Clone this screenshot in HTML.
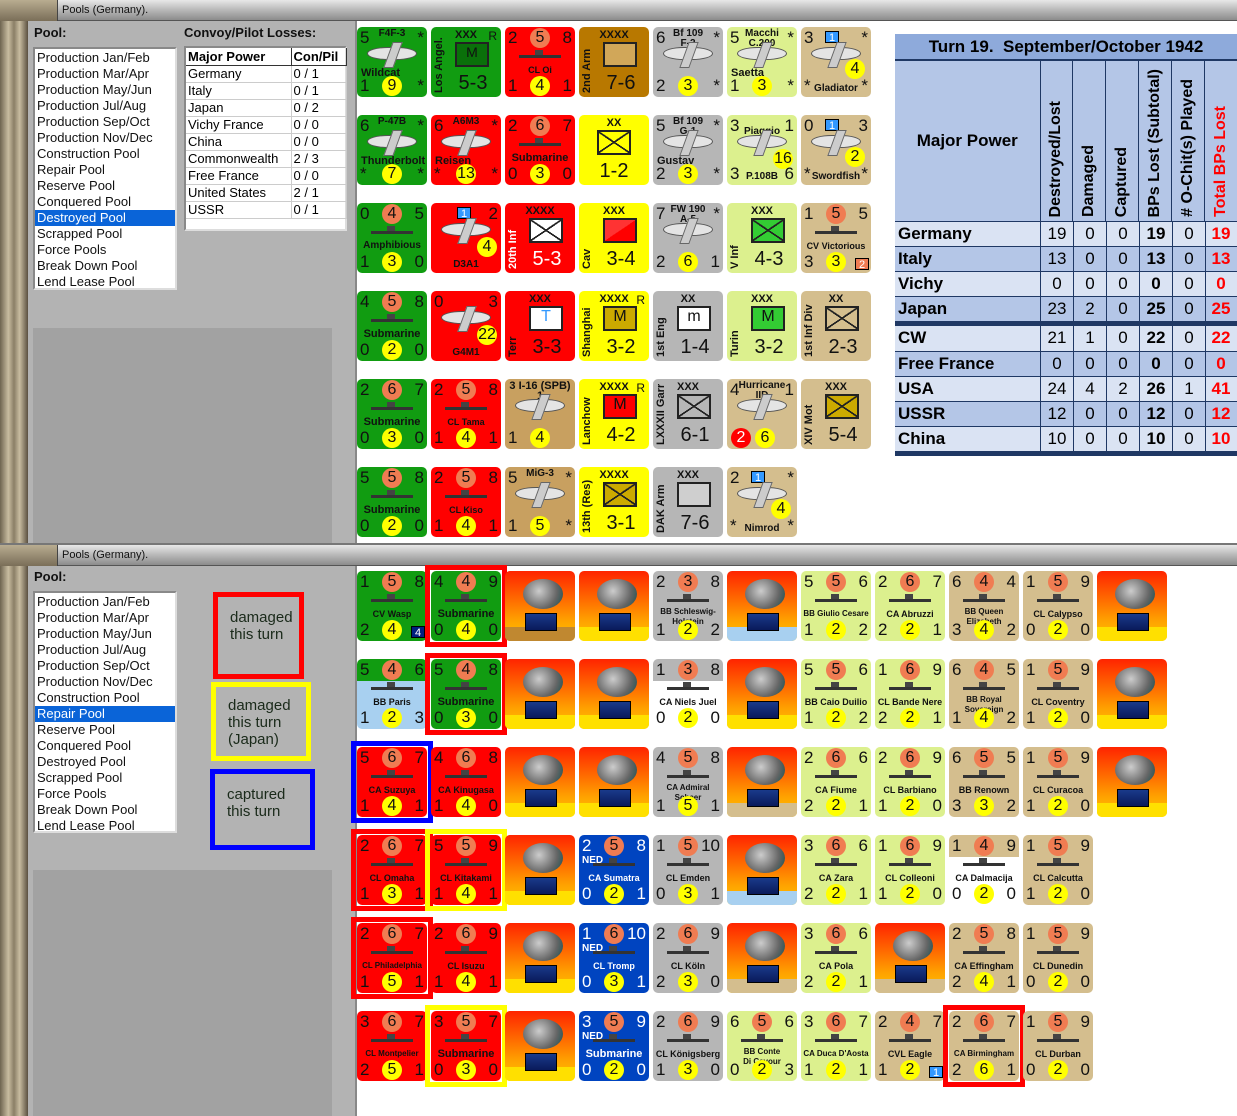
<!DOCTYPE html>
<html><head><meta charset="utf-8"><style>
*{box-sizing:border-box;margin:0;padding:0}
i{font-style:normal}
body{width:1237px;height:1116px;position:relative;overflow:hidden;background:#fff;font-family:"Liberation Sans",sans-serif}
.abs{position:absolute}
.tbar{position:absolute;left:0;width:1237px;height:21px;background:linear-gradient(#e8e8e8,#b8b8b8 50%,#8c8c8c);border-bottom:1px solid #555}
.tbar .ic{position:absolute;left:0;top:0;width:58px;height:21px;background:linear-gradient(#b8ac90,#7a6e58);border-right:1px solid #444}
.tbar span{position:absolute;left:62px;top:4px;font-size:11px;color:#111}
.frame{position:absolute;left:0;width:28px;background:linear-gradient(90deg,#6e6450,#c8bca0 30%,#8a7e66 50%,#c8bca0 70%,#5a5040)}
.panel{position:absolute;left:28px;width:327px;background:#b3b3b3}
.lbl{position:absolute;font-size:13px;font-weight:bold;color:#111}
.list{position:absolute;left:33px;width:144px;background:#fff;border:2px inset #ddd;font-size:13px;padding-top:1px}
.list div{height:16px;line-height:16px;padding-left:2px;color:#111;white-space:nowrap}
.list .sel{background:#0a64d8;color:#fff}
.dark{position:absolute;left:33px;width:299px;background:#a2a2a2}
.conv{position:absolute;left:184px;top:46px;width:163px;height:185px;background:#fff;border:2px inset #ddd;font-size:13px}
.conv table{border-collapse:collapse;width:161px}
.conv td{height:17px;border-right:1px solid #ccc;border-bottom:1px solid #ccc;padding-left:2px;white-space:nowrap}
.conv th{height:17px;text-align:left;border-right:1px solid #333;border-bottom:1px solid #333;padding-left:2px}
.row{position:absolute;display:flex;gap:4px}
.c{position:relative;width:70px;height:70px;border-radius:5px;color:#111;flex:none}
.g{background:#119c11}.r{background:#ff0000}.y{background:#ffff00}.gy{background:#b6b6b6}.lg{background:#dcf08e}.tn{background:#d4be8e}.br{background:#b87800}.bl{background:#0044c0;color:#fff}.lb{background:linear-gradient(#119c11 0 22px,#a8d0f0 22px)}.wh{background:linear-gradient(#b6b6b6 0 22px,#fff 22px)}
.tl,.tr,.bL,.bR{position:absolute;font-size:17px;line-height:20px}
.tl{left:3px;top:1px}.tr{right:3px;top:1px}.bL{left:3px;bottom:1px}.bR{right:3px;bottom:1px}
.oc,.yc{position:absolute;left:25px;width:20px;height:20px;border-radius:50%;text-align:center;font-size:16px;line-height:20px;color:#111;font-weight:normal}
.oc{top:1px;background:#f07c52}.yc{bottom:1px;background:#ffff00}
.sh{position:absolute;left:14px;top:28px;width:42px;height:3px;background:#333}
.sh:after{content:"";position:absolute;left:16px;top:-5px;width:8px;height:5px;background:#444}
.nm{position:absolute;left:0;right:0;top:38px;text-align:center;font-size:9px;font-weight:bold;line-height:10px}
.bl .nm,.bl .ned{color:#fff}
.ned{position:absolute;left:3px;top:20px;font-size:10px;font-weight:bold}
.xx{position:absolute;left:0;right:0;top:2px;text-align:center;font-size:11px;font-weight:bold}
.rr{position:absolute;right:4px;top:2px;font-size:12px}
.bx{position:absolute;left:24px;top:15px;width:34px;height:25px;border:2px solid #222;background:rgba(255,255,255,.35)}
.bx.x{background:linear-gradient(34deg,transparent 48%,#222 48%,#222 53%,transparent 53%),linear-gradient(-34deg,transparent 48%,#222 48%,#222 53%,transparent 53%)}
.st{position:absolute;left:14px;right:0;bottom:2px;text-align:center;font-size:20px}
.vn{position:absolute;left:2px;bottom:4px;writing-mode:vertical-rl;transform:rotate(180deg);font-size:11px;font-weight:bold;height:64px;text-align:left;white-space:nowrap}
.at{position:absolute;left:0;right:0;top:2px;text-align:center;font-size:10px;font-weight:bold;line-height:10px}
.pl{position:absolute;left:10px;top:20px;width:50px;height:13px;border-radius:50%/60%;background:#e4e4e4;border:1px solid #555}
.pl:after{content:"";position:absolute;left:20px;top:-6px;width:8px;height:24px;background:#ccc;border:1px solid #666;transform:skewX(-20deg)}
.an{position:absolute;left:4px;top:40px;font-size:11px;font-weight:bold}
.f{background:linear-gradient(#ff2400,#ff6a00 40%,#ffa000 70%,#ffc800)}
.f:before{content:"";position:absolute;left:18px;top:8px;width:40px;height:30px;border-radius:50%;background:radial-gradient(circle at 40% 40%,#ccc,#666 60%,#3a5a5a 80%)}
.f:after{content:"";position:absolute;left:20px;top:42px;width:30px;height:16px;background:linear-gradient(#1a3a8a,#0a1a5a);border:1px solid #000}
.fb{position:absolute;left:0;right:0;bottom:0;height:14px;border-radius:0 0 5px 5px}
.ob:after,.oy:after,.oB:after{content:"";position:absolute;left:-6px;top:-6px;right:-6px;bottom:-6px;border:5px solid #f00}
.oy:after{border-color:#ff0}.oB:after{border-color:#00f}
.sq{position:absolute;width:14px;height:12px;background:#3399ff;color:#fff;font-size:11px;text-align:center;line-height:12px;border:1px solid #000}
.t{position:absolute;left:895px;top:34px;width:342px;border-collapse:collapse;font-family:"Liberation Sans",sans-serif;font-size:16px}
.ann{position:absolute;background:transparent;font-size:15px;color:#1a2a1a;padding:12px 0 0 12px;line-height:17px}
</style></head><body>

<div class="tbar" style="top:0"><div class="ic"></div><span>Pools (Germany).</span></div>
<div class="frame" style="top:21px;height:523px"></div>
<div class="panel" style="top:21px;height:523px"></div>
<div class="lbl" style="left:34px;top:25px">Pool:</div>
<div class="lbl" style="left:184px;top:25px">Convoy/Pilot Losses:</div>
<div class="list" style="top:47px;height:243px">
<div>Production Jan/Feb</div><div>Production Mar/Apr</div><div>Production May/Jun</div><div>Production Jul/Aug</div><div>Production Sep/Oct</div><div>Production Nov/Dec</div><div>Construction Pool</div><div>Repair Pool</div><div>Reserve Pool</div><div>Conquered Pool</div><div class="sel">Destroyed Pool</div><div>Scrapped Pool</div><div>Force Pools</div><div>Break Down Pool</div><div>Lend Lease Pool</div></div>
<div class="conv"><table>
<tr><th>Major Power</th><th>Con/Pil</th></tr>
<tr><td style="width:105px">Germany</td><td>0 / 1</td></tr><tr><td>Italy</td><td>0 / 1</td></tr><tr><td>Japan</td><td>0 / 2</td></tr><tr><td>Vichy France</td><td>0 / 0</td></tr><tr><td>China</td><td>0 / 0</td></tr><tr><td>Commonwealth</td><td>2 / 3</td></tr><tr><td>Free France</td><td>0 / 0</td></tr><tr><td>United States</td><td>2 / 1</td></tr><tr><td>USSR</td><td>0 / 1</td></tr></table></div>
<div class="dark" style="top:328px;height:215px"></div>
<div class="abs" style="left:355px;top:21px;width:2px;height:523px;background:#888"></div>

<!-- top counters -->
<div class="row" style="left:357px;top:27px">
<div class="c g"><i class="tl">5</i><div class="at">F4F-3</div><i class="tr">*</i><div class="pl"></div><div class="an">Wildcat</div><i class="bL">1</i><b class="yc">9</b><i class="bR">*</i></div>
<div class="c g"><div class="xx">XXX</div><i class="rr">R</i><div class="vn">Los Angel.</div><div class="bx" style="background:#0a700a;text-align:center;font-size:14px">M</div><div class="st">5-3</div></div>
<div class="c r"><i class="tl">2</i><b class="oc">5</b><i class="tr">8</i><div class="sh"></div><div class="nm">CL Oi</div><i class="bL">1</i><b class="yc">4</b><i class="bR">1</i></div>
<div class="c br"><div class="xx">XXXX</div><div class="vn">2nd Arm</div><div class="bx"></div><div class="st">7-6</div></div>
<div class="c gy"><i class="tl">6</i><div class="at">Bf 109<br>F-2</div><i class="tr">*</i><div class="pl"></div><i class="bL">2</i><b class="yc">3</b><i class="bR">*</i></div>
<div class="c lg"><i class="tl">5</i><div class="at">Macchi<br>C.200</div><i class="tr">*</i><div class="pl"></div><div class="an">Saetta</div><i class="bL">1</i><b class="yc">3</b><i class="bR">*</i></div>
<div class="c tn"><i class="tl">3</i><span class="sq" style="left:24px;top:4px">1</span><i class="tr">*</i><div class="pl"></div><b class="yc" style="left:44px;bottom:18px">4</b><div class="nm" style="top:57px;font-size:10px">Gladiator</div><i class="bL">*</i><i class="bR">*</i></div>
</div>
<div class="row" style="left:357px;top:115px">
<div class="c g"><i class="tl">6</i><div class="at">P-47B</div><i class="tr">*</i><div class="pl"></div><div class="an">Thunderbolt</div><i class="bL">*</i><b class="yc">7</b><i class="bR">*</i></div>
<div class="c r"><i class="tl">6</i><div class="at">A6M3</div><i class="tr">*</i><div class="pl"></div><div class="an">Reisen</div><i class="bL">*</i><b class="yc">13</b><i class="bR">*</i></div>
<div class="c r"><i class="tl">2</i><b class="oc">6</b><i class="tr">7</i><div class="sh"></div><div class="nm" style="font-size:11px">Submarine</div><i class="bL">0</i><b class="yc">3</b><i class="bR">0</i></div>
<div class="c y"><div class="xx">XX</div><div class="bx x" style="left:18px"></div><div class="st" style="left:0">1-2</div></div>
<div class="c gy"><i class="tl">5</i><div class="at">Bf 109<br>G-1</div><i class="tr">*</i><div class="pl"></div><div class="an">Gustav</div><i class="bL">2</i><b class="yc">3</b><i class="bR">*</i></div>
<div class="c lg"><i class="tl">3</i><div class="at" style="top:12px">Piaggio</div><i class="tr">1</i><div class="pl"></div><b class="yc" style="left:46px;bottom:16px">16</b><i class="bL">3</i><div class="nm" style="top:57px;font-size:10px">P.108B</div><i class="bR">6</i></div>
<div class="c tn"><i class="tl">0</i><span class="sq" style="left:24px;top:4px">1</span><i class="tr">3</i><div class="pl"></div><b class="yc" style="left:44px;bottom:18px">2</b><div class="nm" style="top:57px;font-size:10px">Swordfish</div><i class="bL">*</i><i class="bR">*</i></div>
</div>
<div class="row" style="left:357px;top:203px">
<div class="c g"><i class="tl">0</i><b class="oc">4</b><i class="tr">5</i><div class="sh"></div><div class="nm" style="font-size:10px">Amphibious</div><i class="bL">1</i><b class="yc">3</b><i class="bR">0</i></div>
<div class="c r"><span class="sq" style="left:26px;top:4px">1</span><i class="tr">2</i><div class="pl"></div><b class="yc" style="left:46px;bottom:16px">4</b><div class="nm" style="top:57px;font-size:10px">D3A1</div></div>
<div class="c r"><div class="xx">XXXX</div><div class="vn" style="color:#fff">20th Inf</div><div class="bx x" style="background-color:#fff"></div><div class="st" style="color:#fff">5-3</div></div>
<div class="c y"><div class="xx">XXX</div><div class="vn">Cav</div><div class="bx" style="background:linear-gradient(-34deg,#ff0000 50%,#ff3333 50%)"></div><div class="st">3-4</div></div>
<div class="c gy"><i class="tl">7</i><div class="at">FW 190<br>A-5</div><i class="tr">*</i><div class="pl"></div><i class="bL">2</i><b class="yc">6</b><i class="bR">1</i></div>
<div class="c lg"><div class="xx">XXX</div><div class="vn">V Inf</div><div class="bx x" style="background-color:#3c3"></div><div class="st">4-3</div></div>
<div class="c tn"><i class="tl">1</i><b class="oc">5</b><i class="tr">5</i><div class="sh"></div><div class="nm">CV Victorious</div><i class="bL">3</i><b class="yc">3</b><span class="sq" style="right:2px;bottom:3px;background:#f07c52">2</span></div>
</div>
<div class="row" style="left:357px;top:291px">
<div class="c g"><i class="tl">4</i><b class="oc">5</b><i class="tr">8</i><div class="sh"></div><div class="nm" style="font-size:11px">Submarine</div><i class="bL">0</i><b class="yc">2</b><i class="bR">0</i></div>
<div class="c r"><i class="tl">0</i><i class="tr">3</i><div class="pl"></div><b class="yc" style="left:46px;bottom:16px">22</b><div class="nm" style="top:57px;font-size:10px">G4M1</div></div>
<div class="c r"><div class="xx">XXX</div><div class="vn">Terr</div><div class="bx" style="background:#fff;color:#39f;text-align:center">T</div><div class="st">3-3</div></div>
<div class="c y"><div class="xx">XXXX</div><i class="rr">R</i><div class="vn">Shanghai</div><div class="bx" style="background:#ca0;text-align:center">M</div><div class="st">3-2</div></div>
<div class="c gy"><div class="xx">XX</div><div class="vn">1st Eng</div><div class="bx" style="background:#fff;text-align:center">m</div><div class="st">1-4</div></div>
<div class="c lg"><div class="xx">XXX</div><div class="vn">Turin</div><div class="bx" style="background:#3c3;text-align:center">M</div><div class="st">3-2</div></div>
<div class="c tn"><div class="xx">XX</div><div class="vn">1st Inf Div</div><div class="bx x"></div><div class="st">2-3</div></div>
</div>
<div class="row" style="left:357px;top:379px">
<div class="c g"><i class="tl">2</i><b class="oc">6</b><i class="tr">7</i><div class="sh"></div><div class="nm" style="font-size:11px">Submarine</div><i class="bL">0</i><b class="yc">3</b><i class="bR">0</i></div>
<div class="c r"><i class="tl">2</i><b class="oc">5</b><i class="tr">8</i><div class="sh"></div><div class="nm">CL Tama</div><i class="bL">1</i><b class="yc">4</b><i class="bR">1</i></div>
<div class="c" style="background:#c8a060"><div class="at" style="font-size:11px">3 I-16 (SPB) 1</div><div class="pl"></div><i class="bL">1</i><b class="yc">4</b></div>
<div class="c y"><div class="xx">XXXX</div><i class="rr">R</i><div class="vn">Lanchow</div><div class="bx" style="background:#f00;text-align:center">M</div><div class="st">4-2</div></div>
<div class="c gy"><div class="xx">XXX</div><div class="vn">LXXXII Garr</div><div class="bx x"></div><div class="st">6-1</div></div>
<div class="c tn"><i class="tl">4</i><div class="at">Hurricane<br>IID</div><i class="tr">1</i><div class="pl"></div><b class="yc" style="left:4px;background:#f00;color:#fff">2</b><b class="yc" style="left:28px">6</b></div>
<div class="c tn"><div class="xx">XXX</div><div class="vn">XIV Mot</div><div class="bx x" style="background-color:#ca0"></div><div class="st">5-4</div></div>
</div>
<div class="row" style="left:357px;top:467px">
<div class="c g"><i class="tl">5</i><b class="oc">5</b><i class="tr">8</i><div class="sh"></div><div class="nm" style="font-size:11px">Submarine</div><i class="bL">0</i><b class="yc">2</b><i class="bR">0</i></div>
<div class="c r"><i class="tl">2</i><b class="oc">5</b><i class="tr">8</i><div class="sh"></div><div class="nm">CL Kiso</div><i class="bL">1</i><b class="yc">4</b><i class="bR">1</i></div>
<div class="c" style="background:#c8a060"><i class="tl">5</i><div class="at">MiG-3</div><i class="tr">*</i><div class="pl"></div><i class="bL">1</i><b class="yc">5</b><i class="bR">*</i></div>
<div class="c y"><div class="xx">XXXX</div><div class="vn">13th (Res)</div><div class="bx x" style="background-color:#ca0"></div><div class="st">3-1</div></div>
<div class="c gy"><div class="xx">XXX</div><div class="vn">DAK Arm</div><div class="bx"></div><div class="st">7-6</div></div>
<div class="c tn"><i class="tl">2</i><span class="sq" style="left:24px;top:4px">1</span><i class="tr">*</i><div class="pl"></div><b class="yc" style="left:44px;bottom:18px">4</b><div class="nm" style="top:57px;font-size:10px">Nimrod</div><i class="bL">*</i><i class="bR">*</i></div>
</div>

<table class="t">
<tr><td colspan="7" style="height:26px;background:#8eaadb;text-align:center;font-weight:bold;font-size:17px;border-bottom:2px solid #1f3864">Turn 19.&nbsp; September/October 1942</td></tr>
<tr style="background:#b4c6e7;font-weight:bold"><td style="height:161px;width:145px;text-align:center;font-size:17px;border-right:1px solid #1f3864">Major Power</td>
<td style="border-right:1px solid #1f3864;vertical-align:bottom"><div style="writing-mode:vertical-rl;transform:rotate(180deg);margin:4px auto">Destroyed/Lost</div></td>
<td style="border-right:1px solid #1f3864;vertical-align:bottom"><div style="writing-mode:vertical-rl;transform:rotate(180deg);margin:4px auto">Damaged</div></td>
<td style="border-right:1px solid #1f3864;vertical-align:bottom"><div style="writing-mode:vertical-rl;transform:rotate(180deg);margin:4px auto">Captured</div></td>
<td style="border-right:1px solid #1f3864;vertical-align:bottom"><div style="writing-mode:vertical-rl;transform:rotate(180deg);margin:4px auto">BPs Lost (Subtotal)</div></td>
<td style="border-right:1px solid #1f3864;vertical-align:bottom"><div style="writing-mode:vertical-rl;transform:rotate(180deg);margin:4px auto"># O-Chit(s) Played</div></td>
<td style="vertical-align:bottom;color:#f00"><div style="writing-mode:vertical-rl;transform:rotate(180deg);margin:4px auto">Total BPs Lost</div></td></tr>
</table>
<div class="abs" style="left:895px;top:221px;width:342px;font-size:17px">
<style>.tr2{display:flex;height:25px;line-height:24px;border-top:1px solid #1f3864}.tr2 div{width:33px;text-align:center;border-left:1px solid #1f3864}.tr2 div:first-child{width:145px;text-align:left;padding-left:3px;font-weight:bold;border-left:none}.tr2 .b{font-weight:bold}.tr2 .rd{font-weight:bold;color:#f00;width:31px}.L{background:#dae3f3}.D{background:#b4c6e7}</style>
<div class="tr2 L"><div>Germany</div><div>19</div><div>0</div><div>0</div><div class="b">19</div><div>0</div><div class="rd">19</div></div>
<div class="tr2 D"><div>Italy</div><div>13</div><div>0</div><div>0</div><div class="b">13</div><div>0</div><div class="rd">13</div></div>
<div class="tr2 L"><div>Vichy</div><div>0</div><div>0</div><div>0</div><div class="b">0</div><div>0</div><div class="rd">0</div></div>
<div class="tr2 D"><div>Japan</div><div>23</div><div>2</div><div>0</div><div class="b">25</div><div>0</div><div class="rd">25</div></div>
<div style="height:5px;background:#1f3864"></div>
<div class="tr2 L" style="border-top:none"><div>CW</div><div>21</div><div>1</div><div>0</div><div class="b">22</div><div>0</div><div class="rd">22</div></div>
<div class="tr2 D"><div>Free France</div><div>0</div><div>0</div><div>0</div><div class="b">0</div><div>0</div><div class="rd">0</div></div>
<div class="tr2 L"><div>USA</div><div>24</div><div>4</div><div>2</div><div class="b">26</div><div>1</div><div class="rd">41</div></div>
<div class="tr2 D"><div>USSR</div><div>12</div><div>0</div><div>0</div><div class="b">12</div><div>0</div><div class="rd">12</div></div>
<div class="tr2 L"><div>China</div><div>10</div><div>0</div><div>0</div><div class="b">10</div><div>0</div><div class="rd">10</div></div>
<div style="height:5px;background:#1f3864"></div>
</div>

<!-- bottom window -->
<div class="abs" style="left:0;top:543px;width:1237px;height:2px;background:#777"></div>
<div class="tbar" style="top:545px"><div class="ic"></div><span>Pools (Germany).</span></div>
<div class="frame" style="top:566px;height:550px"></div>
<div class="panel" style="top:566px;height:550px"></div>
<div class="lbl" style="left:34px;top:569px">Pool:</div>
<div class="list" style="top:591px;height:242px">
<div>Production Jan/Feb</div><div>Production Mar/Apr</div><div>Production May/Jun</div><div>Production Jul/Aug</div><div>Production Sep/Oct</div><div>Production Nov/Dec</div><div>Construction Pool</div><div class="sel">Repair Pool</div><div>Reserve Pool</div><div>Conquered Pool</div><div>Destroyed Pool</div><div>Scrapped Pool</div><div>Force Pools</div><div>Break Down Pool</div><div>Lend Lease Pool</div></div>
<div class="ann" style="left:213px;top:592px;width:91px;height:87px;border:5px solid #f00">damaged<br>this turn</div>
<div class="ann" style="left:211px;top:682px;width:100px;height:79px;border:5px solid #ff0;padding-top:10px">damaged<br>this turn<br>(Japan)</div>
<div class="ann" style="left:210px;top:769px;width:105px;height:81px;border:5px solid #00f">captured<br>this turn</div>
<div class="dark" style="top:870px;height:246px"></div>
<div class="abs" style="left:355px;top:566px;width:2px;height:550px;background:#888"></div>

<div class="row" style="left:357px;top:571px">
<div class="c g"><i class="tl">1</i><b class="oc">5</b><i class="tr">8</i><div class="sh"></div><div class="nm">CV Wasp</div><i class="bL">2</i><b class="yc">4</b><span class="sq" style="right:2px;bottom:3px;background:#002080">4</span></div>
<div class="c g ob"><i class="tl">4</i><b class="oc">4</b><i class="tr">9</i><div class="sh"></div><div class="nm" style="font-size:11px">Submarine</div><i class="bL">0</i><b class="yc">4</b><i class="bR">0</i></div>
<div class="c f"><div class="fb" style="background:#c08830"></div></div>
<div class="c f"><div class="fb" style="background:#ffe000"></div></div>
<div class="c gy"><i class="tl">2</i><b class="oc">3</b><i class="tr">8</i><div class="sh"></div><div class="nm" style="top:36px;font-size:8px">BB Schleswig-<br>Holstein</div><i class="bL">1</i><b class="yc">2</b><i class="bR">2</i></div>
<div class="c f"><div class="fb" style="background:#a8d0f0"></div></div>
<div class="c lg"><i class="tl">5</i><b class="oc">5</b><i class="tr">6</i><div class="sh"></div><div class="nm" style="font-size:8px">BB Giulio Cesare</div><i class="bL">1</i><b class="yc">2</b><i class="bR">2</i></div>
<div class="c lg"><i class="tl">2</i><b class="oc">6</b><i class="tr">7</i><div class="sh"></div><div class="nm">CA Abruzzi</div><i class="bL">2</i><b class="yc">2</b><i class="bR">1</i></div>
<div class="c tn"><i class="tl">6</i><b class="oc">4</b><i class="tr">4</i><div class="sh"></div><div class="nm" style="top:36px;font-size:8px">BB Queen<br>Elizabeth</div><i class="bL">3</i><b class="yc">4</b><i class="bR">2</i></div>
<div class="c tn"><i class="tl">1</i><b class="oc">5</b><i class="tr">9</i><div class="sh"></div><div class="nm">CL Calypso</div><i class="bL">0</i><b class="yc">2</b><i class="bR">0</i></div>
<div class="c f"><div class="fb" style="background:#ffe000"></div></div>
</div>
<div class="row" style="left:357px;top:659px">
<div class="c lb"><i class="tl">5</i><b class="oc">4</b><i class="tr">6</i><div class="sh"></div><div class="nm">BB Paris</div><i class="bL">1</i><b class="yc">2</b><i class="bR">3</i></div>
<div class="c g ob"><i class="tl">5</i><b class="oc">4</b><i class="tr">8</i><div class="sh"></div><div class="nm" style="font-size:11px">Submarine</div><i class="bL">0</i><b class="yc">3</b><i class="bR">0</i></div>
<div class="c f"><div class="fb" style="background:#ffe000"></div></div>
<div class="c f"><div class="fb" style="background:#ffe000"></div></div>
<div class="c wh"><i class="tl">1</i><b class="oc">3</b><i class="tr">8</i><div class="sh"></div><div class="nm">CA Niels Juel</div><i class="bL">0</i><b class="yc">2</b><i class="bR">0</i></div>
<div class="c f"><div class="fb" style="background:#ffe000"></div></div>
<div class="c lg"><i class="tl">5</i><b class="oc">5</b><i class="tr">6</i><div class="sh"></div><div class="nm">BB Caio Duilio</div><i class="bL">1</i><b class="yc">2</b><i class="bR">2</i></div>
<div class="c lg"><i class="tl">1</i><b class="oc">6</b><i class="tr">9</i><div class="sh"></div><div class="nm">CL Bande Nere</div><i class="bL">2</i><b class="yc">2</b><i class="bR">1</i></div>
<div class="c tn"><i class="tl">6</i><b class="oc">4</b><i class="tr">5</i><div class="sh"></div><div class="nm" style="top:36px;font-size:8px">BB Royal<br>Sovereign</div><i class="bL">1</i><b class="yc">4</b><i class="bR">2</i></div>
<div class="c tn"><i class="tl">1</i><b class="oc">5</b><i class="tr">9</i><div class="sh"></div><div class="nm">CL Coventry</div><i class="bL">1</i><b class="yc">2</b><i class="bR">0</i></div>
<div class="c f"><div class="fb" style="background:#ffe000"></div></div>
</div>
<div class="row" style="left:357px;top:747px">
<div class="c r oB"><i class="tl">5</i><b class="oc">6</b><i class="tr">7</i><div class="sh"></div><div class="nm">CA Suzuya</div><i class="bL">1</i><b class="yc">4</b><i class="bR">1</i></div>
<div class="c r"><i class="tl">4</i><b class="oc">6</b><i class="tr">8</i><div class="sh"></div><div class="nm">CA Kinugasa</div><i class="bL">1</i><b class="yc">4</b><i class="bR">0</i></div>
<div class="c f"><div class="fb" style="background:#ffe000"></div></div>
<div class="c f"><div class="fb" style="background:#ffe000"></div></div>
<div class="c gy"><i class="tl">4</i><b class="oc">5</b><i class="tr">8</i><div class="sh"></div><div class="nm" style="top:36px;font-size:8px">CA Admiral<br>Scheer</div><i class="bL">1</i><b class="yc">5</b><i class="bR">1</i></div>
<div class="c f"><div class="fb" style="background:#d4be8e"></div></div>
<div class="c lg"><i class="tl">2</i><b class="oc">6</b><i class="tr">6</i><div class="sh"></div><div class="nm">CA Fiume</div><i class="bL">2</i><b class="yc">2</b><i class="bR">1</i></div>
<div class="c lg"><i class="tl">2</i><b class="oc">6</b><i class="tr">9</i><div class="sh"></div><div class="nm">CL Barbiano</div><i class="bL">1</i><b class="yc">2</b><i class="bR">0</i></div>
<div class="c tn"><i class="tl">6</i><b class="oc">5</b><i class="tr">5</i><div class="sh"></div><div class="nm">BB Renown</div><i class="bL">3</i><b class="yc">3</b><i class="bR">2</i></div>
<div class="c tn"><i class="tl">1</i><b class="oc">5</b><i class="tr">9</i><div class="sh"></div><div class="nm">CL Curacoa</div><i class="bL">1</i><b class="yc">2</b><i class="bR">0</i></div>
<div class="c f"><div class="fb" style="background:#ffe000"></div></div>
</div>
<div class="row" style="left:357px;top:835px">
<div class="c r ob"><i class="tl">2</i><b class="oc">6</b><i class="tr">7</i><div class="sh"></div><div class="nm">CL Omaha</div><i class="bL">1</i><b class="yc">3</b><i class="bR">1</i></div>
<div class="c r oy"><i class="tl">5</i><b class="oc">5</b><i class="tr">9</i><div class="sh"></div><div class="nm">CL Kitakami</div><i class="bL">1</i><b class="yc">4</b><i class="bR">1</i></div>
<div class="c f"><div class="fb" style="background:#ffe000"></div></div>
<div class="c bl"><i class="tl">2</i><b class="oc">5</b><i class="tr">8</i><span class="ned">NED</span><div class="sh"></div><div class="nm">CA Sumatra</div><i class="bL">0</i><b class="yc">2</b><i class="bR">1</i></div>
<div class="c gy"><i class="tl">1</i><b class="oc">5</b><i class="tr">10</i><div class="sh"></div><div class="nm">CL Emden</div><i class="bL">0</i><b class="yc">3</b><i class="bR">1</i></div>
<div class="c f"><div class="fb" style="background:#a8d0f0"></div></div>
<div class="c lg"><i class="tl">3</i><b class="oc">6</b><i class="tr">6</i><div class="sh"></div><div class="nm">CA Zara</div><i class="bL">2</i><b class="yc">2</b><i class="bR">1</i></div>
<div class="c lg"><i class="tl">1</i><b class="oc">6</b><i class="tr">9</i><div class="sh"></div><div class="nm">CL Colleoni</div><i class="bL">1</i><b class="yc">2</b><i class="bR">0</i></div>
<div class="c" style="background:linear-gradient(#d4be8e 0 22px,#fff 22px)"><i class="tl">1</i><b class="oc">4</b><i class="tr">9</i><div class="sh"></div><div class="nm">CA Dalmacija</div><i class="bL">0</i><b class="yc">2</b><i class="bR">0</i></div>
<div class="c tn"><i class="tl">1</i><b class="oc">5</b><i class="tr">9</i><div class="sh"></div><div class="nm">CL Calcutta</div><i class="bL">1</i><b class="yc">2</b><i class="bR">0</i></div>
</div>
<div class="row" style="left:357px;top:923px">
<div class="c r ob"><i class="tl">2</i><b class="oc">6</b><i class="tr">7</i><div class="sh"></div><div class="nm" style="font-size:8px">CL Philadelphia</div><i class="bL">1</i><b class="yc">5</b><i class="bR">1</i></div>
<div class="c r"><i class="tl">2</i><b class="oc">6</b><i class="tr">9</i><div class="sh"></div><div class="nm">CL Isuzu</div><i class="bL">1</i><b class="yc">4</b><i class="bR">1</i></div>
<div class="c f"><div class="fb" style="background:#ffe000"></div></div>
<div class="c bl"><i class="tl">1</i><b class="oc">6</b><i class="tr">10</i><span class="ned">NED</span><div class="sh"></div><div class="nm">CL Tromp</div><i class="bL">0</i><b class="yc">3</b><i class="bR">1</i></div>
<div class="c gy"><i class="tl">2</i><b class="oc">6</b><i class="tr">9</i><div class="sh"></div><div class="nm">CL Köln</div><i class="bL">2</i><b class="yc">3</b><i class="bR">0</i></div>
<div class="c f"><div class="fb" style="background:#d4be8e"></div></div>
<div class="c lg"><i class="tl">3</i><b class="oc">6</b><i class="tr">6</i><div class="sh"></div><div class="nm">CA Pola</div><i class="bL">2</i><b class="yc">2</b><i class="bR">1</i></div>
<div class="c f"><div class="fb" style="background:#d4be8e"></div></div>
<div class="c tn"><i class="tl">2</i><b class="oc">5</b><i class="tr">8</i><div class="sh"></div><div class="nm">CA Effingham</div><i class="bL">2</i><b class="yc">4</b><i class="bR">1</i></div>
<div class="c tn"><i class="tl">1</i><b class="oc">5</b><i class="tr">9</i><div class="sh"></div><div class="nm">CL Dunedin</div><i class="bL">0</i><b class="yc">2</b><i class="bR">0</i></div>
</div>
<div class="row" style="left:357px;top:1011px">
<div class="c r"><i class="tl">3</i><b class="oc">6</b><i class="tr">7</i><div class="sh"></div><div class="nm" style="font-size:8px">CL Montpelier</div><i class="bL">2</i><b class="yc">5</b><i class="bR">1</i></div>
<div class="c r oy"><i class="tl">3</i><b class="oc">5</b><i class="tr">7</i><div class="sh"></div><div class="nm" style="font-size:11px">Submarine</div><i class="bL">0</i><b class="yc">3</b><i class="bR">0</i></div>
<div class="c f"><div class="fb" style="background:#ffe000"></div></div>
<div class="c bl"><i class="tl">3</i><b class="oc">5</b><i class="tr">9</i><span class="ned">NED</span><div class="sh"></div><div class="nm" style="font-size:11px">Submarine</div><i class="bL">0</i><b class="yc">2</b><i class="bR">0</i></div>
<div class="c gy"><i class="tl">2</i><b class="oc">6</b><i class="tr">9</i><div class="sh"></div><div class="nm">CL Königsberg</div><i class="bL">1</i><b class="yc">3</b><i class="bR">0</i></div>
<div class="c lg"><i class="tl">6</i><b class="oc">5</b><i class="tr">6</i><div class="sh"></div><div class="nm" style="top:36px;font-size:8px">BB Conte<br>Di Cavour</div><i class="bL">0</i><b class="yc">2</b><i class="bR">3</i></div>
<div class="c lg"><i class="tl">3</i><b class="oc">6</b><i class="tr">7</i><div class="sh"></div><div class="nm" style="font-size:8px">CA Duca D'Aosta</div><i class="bL">1</i><b class="yc">2</b><i class="bR">1</i></div>
<div class="c tn"><i class="tl">2</i><b class="oc">4</b><i class="tr">7</i><div class="sh"></div><div class="nm">CVL Eagle</div><i class="bL">1</i><b class="yc">2</b><span class="sq" style="right:2px;bottom:3px">1</span></div>
<div class="c tn ob"><i class="tl">2</i><b class="oc">6</b><i class="tr">7</i><div class="sh"></div><div class="nm" style="font-size:8px">CA Birmingham</div><i class="bL">2</i><b class="yc">6</b><i class="bR">1</i></div>
<div class="c tn"><i class="tl">1</i><b class="oc">5</b><i class="tr">9</i><div class="sh"></div><div class="nm">CL Durban</div><i class="bL">0</i><b class="yc">2</b><i class="bR">0</i></div>
</div>
</body></html>
